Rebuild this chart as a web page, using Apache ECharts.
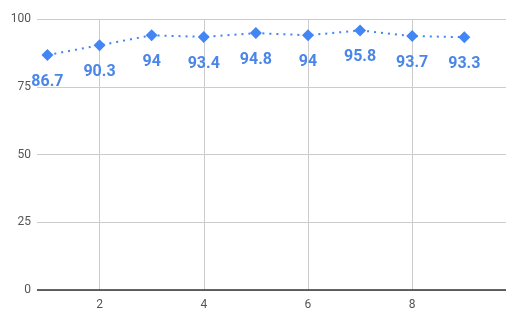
<!DOCTYPE html>
<html><head><meta charset="utf-8">
<script src="https://cdn.jsdelivr.net/npm/echarts@6/dist/echarts.min.js"></script>
<style>html,body{margin:0;padding:0;background:#fff}#c{width:506px;height:321px}</style>
</head><body><div id="c"></div>
<script>
const xValues = [1, 2, 3, 4, 5, 6, 7, 8, 9];
const yValues = [86.7, 90.3, 94, 93.4, 94.8, 94, 95.8, 93.7, 93.3];
const xTicks = [2, 4, 6, 8];
const yTicks = [0, 25, 50, 75, 100];

const chart = echarts.init(document.getElementById('c'), null, {renderer: 'canvas'});
chart.setOption({
  animation: false,
  grid: {left: 37, right: 0, top: 19, bottom: 31, containLabel: false},
  xAxis: {
    type: 'value', min: 0.8, max: 9.8,
    axisLine: {show: false},
    axisTick: {show: false, customValues: xTicks},
    axisLabel: {customValues: xTicks, color: '#555', fontFamily: 'Roboto', fontSize: 12, margin: 9},
    splitLine: {show: true, lineStyle: {color: '#cccccc', width: 1}}
  },
  yAxis: {
    type: 'value', min: 0, max: 100, interval: 25,
    axisLine: {show: false},
    axisTick: {show: false},
    axisLabel: {color: '#555', fontFamily: 'Roboto', fontSize: 12, margin: 6},
    splitLine: {show: true, lineStyle: {color: '#cccccc', width: 1}}
  },
  series: [{
    type: 'line',
    data: xValues.map((x, i) => [x, yValues[i]]),
    symbol: 'diamond', symbolSize: 12,
    itemStyle: {color: '#4285f4'},
    lineStyle: {color: '#4285f4', width: 2, type: [2, 5]},
    label: {show: true, position: 'bottom', distance: 13, color: '#4a86e8', fontFamily: 'Roboto', fontWeight: 'bold', fontSize: 16,
      formatter: p => String(p.value[1])},
    markLine: {
      silent: true, symbol: 'none', label: {show: false},
      lineStyle: {color: '#333', width: 1.5, type: 'solid'},
      data: [{yAxis: 0}]
    }
  }]
});
</script></body></html>
